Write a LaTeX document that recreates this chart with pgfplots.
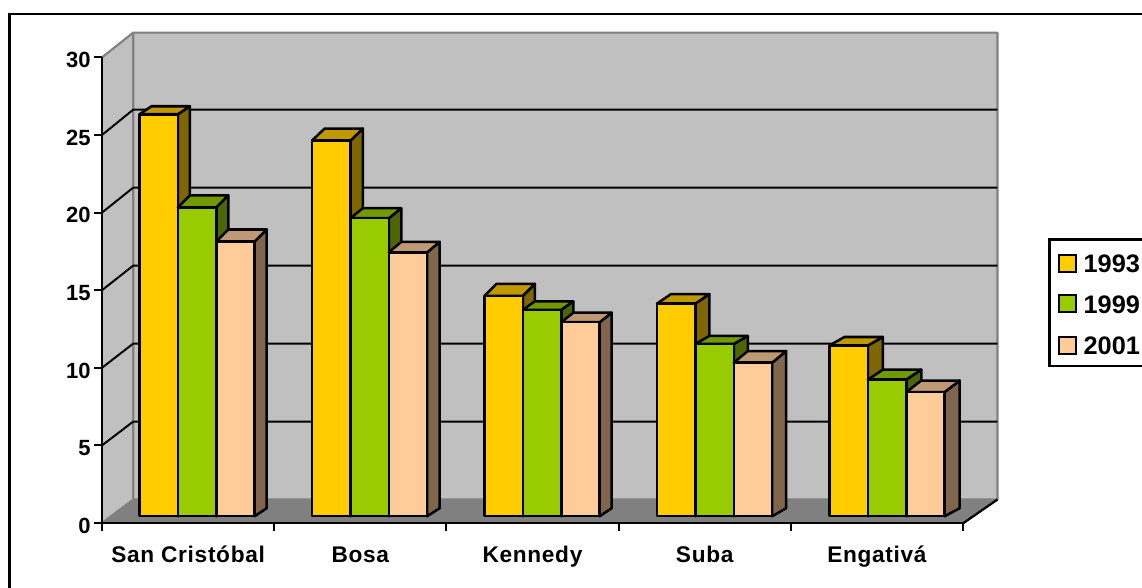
\documentclass[border=0pt]{standalone}
\usepackage{fontspec}
\setmainfont{Liberation Sans}
\usepackage{pgfplots}
\usepackage{pgfplotstable}
\pgfplotsset{compat=1.18}

\definecolor{front0}{HTML}{FFCC00}\definecolor{top0}{HTML}{BF9900}\definecolor{side0}{HTML}{806600}
\definecolor{front1}{HTML}{99CC00}\definecolor{top1}{HTML}{739900}\definecolor{side1}{HTML}{4D6600}
\definecolor{front2}{HTML}{FFCC99}\definecolor{top2}{HTML}{BF9973}\definecolor{side2}{HTML}{80664D}
\definecolor{wall}{HTML}{C0C0C0}\definecolor{floorgray}{HTML}{808080}

% v0,v1,v2: values for 1993, 1999, 2001; d0,d1,d2 and dx: depth of each box
\pgfplotstableread{
g v0   v1   v2   d0   d1   d2   dx
0 25.9 19.9 17.7 8    12   12   12
1 24.2 19.2 17.0 12   10   10.5 12.5
2 14.2 13.3 12.5 12   8.5  9.5  12
3 13.7 11.1 9.9  9.5  8    11.5 14
4 11.0 8.8  8.0  8.5  10   11.5 15
}\bardata

% Geometry of the boxes inside a category, in drawing units
\def\pxx{172.2}\def\pxy{15.52}

\begin{document}
\begin{tikzpicture}
\useasboundingbox (0,0) rectangle (856.5pt,440.25pt);
\clip (0,0) rectangle (856.5pt,440.25pt);
\draw[black,line width=2pt] (7.1pt,-15pt) rectangle (880pt,429.7pt);
\begin{axis}[
  at={(76.5pt,48pt)},anchor=south west,
  scale only axis,width=645.75pt,height=349.2pt,
  xmin=0,xmax=5,ymin=0,ymax=30,
  clip=false,axis on top=true,
  axis x line=bottom,axis y line=left,
  axis line style={-,black,line width=1.9pt},
  ytick={0,5,...,30},
  xtick={0.5,1.5,2.5,3.5,4.5},
  xticklabels={San Cristóbal,Bosa,Kennedy,Suba,Engativá},
  minor xtick={0,1,2,3,4,5},
  major x tick style={draw=none},
  tick align=outside,
  major tick length=6pt,minor tick length=6pt,
  tick style={black,line width=1.5pt},
  /pgf/number format/assume math mode=true,
  yticklabel style={font=\fontsize{16.5}{18}\selectfont\bfseries,xshift=1pt,yshift=-2pt},
  xticklabel style={font=\fontsize{17}{20}\selectfont\bfseries\addfontfeatures{LetterSpace=3},yshift=-7.5pt,text height=12.5pt,text depth=0pt},
]
% side wall, back wall and floor of the chart box
\fill[wall] (axis cs:0,0) -- (axis cs:0.1818,1.514) -- (axis cs:0.1818,31.6) -- (axis cs:0,30) -- cycle;
\fill[wall] (axis cs:0.1818,1.514) rectangle (axis cs:5.2,31.6);
\fill[floorgray] (axis cs:0,0) -- (axis cs:0.1818,1.514) -- (axis cs:5.2,1.514) -- (axis cs:5.003,0) -- cycle;
\draw[floorgray,line width=1.6pt,line join=round] (axis cs:0,30) -- (axis cs:0.1818,31.6) -- (axis cs:5.2,31.6) -- (axis cs:5.2,1.514) -- (axis cs:0.1818,1.514) -- (axis cs:0.1818,31.6);
\draw[floorgray,line width=1.6pt] (axis cs:0,0) -- (axis cs:0.1818,1.514);
\draw[black,line width=1.7pt] (axis cs:5.003,0) -- (axis cs:5.2,1.514);
% grid lines on the walls
\pgfplotsinvokeforeach{5,10,15,20,25}{
  \draw[black,line width=1.5pt,line join=round] (axis cs:0,#1) -- (axis cs:0.1818,{#1*1.005+1.514}) -- (axis cs:5.2,{#1*1.005+1.514});
}
% boxes of each category, one series after the other
\foreach \g in {0,...,4}{
  \foreach \s in {0,1,2}{
    \pgfplotstablegetelem{\g}{v\s}\of\bardata \let\val\pgfplotsretval
    \pgfplotstablegetelem{\g}{d\s}\of\bardata \let\dep\pgfplotsretval
    \pgfplotstablegetelem{\g}{dx}\of\bardata  \let\wid\pgfplotsretval
    \pgfmathsetmacro\xl{(139.5+172.5*\g+38.4*\s-102)/\pxx}
    \pgfmathsetmacro\xr{\xl+38.4/\pxx}
    \pgfmathsetmacro\xb{\xr+\wid/\pxx}
    \pgfmathsetmacro\xc{\xl+\wid/\pxx}
    \pgfmathsetmacro\yb{0.438}
    \pgfmathsetmacro\yt{\val+\yb}
    \pgfmathsetmacro\yy{\yt+\dep/\pxy}
    \pgfmathsetmacro\ybb{\yb+8/\pxy}
    \edef\drawbox{%
      \noexpand\addplot[draw=black,line width=1.9pt,line join=round,fill=side\s,mark=none,forget plot]
        coordinates {(\xr,\yb)(\xb,\ybb)(\xb,\yy)(\xr,\yt)} --cycle;
      \noexpand\addplot[draw=black,line width=1.9pt,line join=round,fill=top\s,mark=none,forget plot]
        coordinates {(\xl,\yt)(\xc,\yy)(\xb,\yy)(\xr,\yt)} --cycle;
      \noexpand\addplot[draw=black,line width=1.9pt,line join=round,fill=front\s,mark=none,forget plot]
        coordinates {(\xl,\yb)(\xl,\yt)(\xr,\yt)(\xr,\yb)} --cycle;
    }\drawbox
  }
}
\end{axis}
% legend box, running past the right edge
\draw[black,line width=1.6pt,fill=white] (787.1pt,165.8pt) rectangle (880pt,260.6pt);
\draw[black,line width=1.5pt,fill=front0] (794.6pt,236.3pt) rectangle (807pt,249pt);
\draw[black,line width=1.5pt,fill=front1] (794.6pt,206.3pt) rectangle (807pt,219pt);
\draw[black,line width=1.5pt,fill=front2] (794.6pt,174.8pt) rectangle (807pt,187.5pt);
\node[anchor=base west,inner sep=0pt,font=\fontsize{19}{20}\selectfont\bfseries] at (812.5pt,236.2pt) {1993};
\node[anchor=base west,inner sep=0pt,font=\fontsize{19}{20}\selectfont\bfseries] at (812.5pt,205.4pt) {1999};
\node[anchor=base west,inner sep=0pt,font=\fontsize{19}{20}\selectfont\bfseries] at (812.5pt,174.6pt) {2001};
\end{tikzpicture}
\end{document}
